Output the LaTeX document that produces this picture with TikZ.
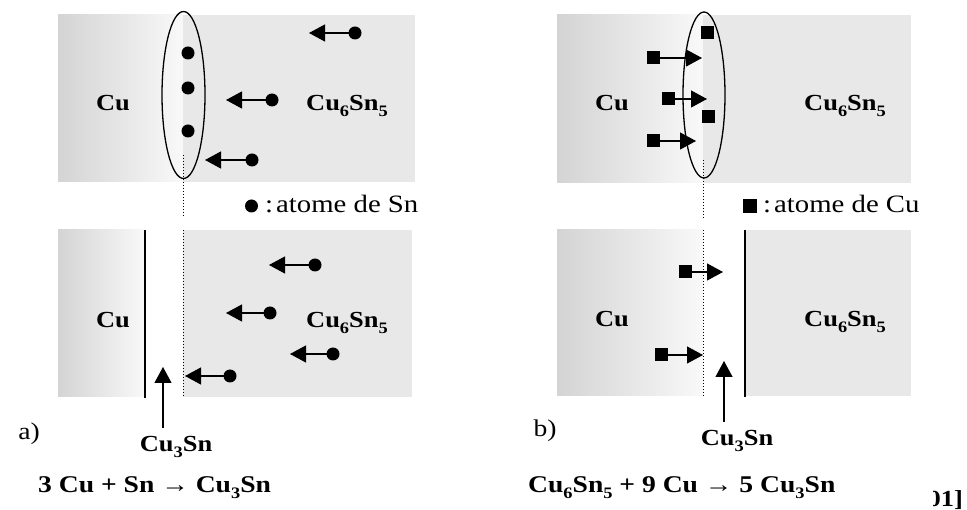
\documentclass[tikz,border=0pt]{standalone}
\usepackage{fontspec}
\setmainfont[FakeStretch=1.15]{Liberation Serif}
\usetikzlibrary{arrows.meta}
\newcommand\mysub[1]{\raisebox{-0.22em}{\fontsize{16}{16}\selectfont #1}}
\definecolor{cusix}{gray}{0.91}
\definecolor{cudark}{gray}{0.83}
\definecolor{culight}{gray}{0.975}
\tikzset{
  lab/.style={font=\fontsize{23}{23}\selectfont\bfseries, inner sep=0pt, anchor=base},
  txt/.style={font=\fontsize{24}{24}\selectfont, inner sep=0pt, anchor=base},
  legtxt/.style={font=\fontsize{25}{25}\selectfont, inner sep=0pt, anchor=base west},
  eqn/.style={font=\fontsize{24}{24}\selectfont\bfseries, inner sep=0pt, anchor=base west},
  atom/.style={circle, fill=black, inner sep=0pt, minimum size=13pt},
  sqatom/.style={rectangle, fill=black, inner sep=0pt, minimum size=13pt},
  arr/.style={line width=1.2pt, -{Triangle[length=16pt,width=17pt]}, shorten <=-1pt},
  cuzone/.style={left color=cudark, right color=culight, draw=none},
  sixzone/.style={fill=cusix, draw=none},
  iface/.style={dotted, line width=1pt},
  wall/.style={line width=1.3pt},
  ell/.style={draw, line width=1.3pt},
}
\begin{document}
\begin{tikzpicture}[x=1pt, y=-1pt]
\useasboundingbox (0,0) rectangle (967,510);

% ---------- panel a, top ----------
\shade[cuzone] (58,15) rectangle (183,182);
\fill[sixzone] (183,15) rectangle (415,182);
\draw[ell] (183.5,95) ellipse [x radius=21.5, y radius=83.5];
\draw[iface] (183,155) -- (183,217);
\node[lab] (cuA) at (113,111) {Cu};
\node[lab] (sixA) at (347,111) {Cu\mysub{6}Sn\mysub{5}};
\node[atom] (ea1) at (188,53) {};
\node[atom] (ea2) at (188,88) {};
\node[atom] (ea3) at (188,131) {};
\node[atom] (da1) at (355,33) {};
\coordinate (ta1) at (309,33);
\node[atom] (da2) at (272,100) {};
\coordinate (ta2) at (226,100);
\node[atom] (da3) at (252,160) {};
\coordinate (ta3) at (205,160);
\draw[arr] (da1) -- (ta1);
\draw[arr] (da2) -- (ta2);
\draw[arr] (da3) -- (ta3);
\node[atom] (legA) at (251.5,206) {};
\node[legtxt] (legAt) at (265,213) {:\kern3pt atome de Sn};

% ---------- panel a, bottom ----------
\shade[cuzone] (58,230) rectangle (145,397);
\fill[sixzone] (183,230) rectangle (412,397);
\draw[wall] (145,230) -- (145,398);
\draw[iface] (183,230) -- (183,397);
\node[lab] (cuB) at (113,328) {Cu};
\node[lab] (sixB) at (347,328) {Cu\mysub{6}Sn\mysub{5}};
\node[atom] (db1) at (315,265) {};
\coordinate (tb1) at (269,265);
\node[atom] (db2) at (270,313) {};
\coordinate (tb2) at (226,313);
\node[atom] (db3) at (333,354) {};
\coordinate (tb3) at (290,354);
\node[atom] (db4) at (230,376) {};
\coordinate (tb4) at (185,376);
\draw[arr] (db1) -- (tb1);
\draw[arr] (db2) -- (tb2);
\draw[arr] (db3) -- (tb3);
\draw[arr] (db4) -- (tb4);
\coordinate (pa) at (163,428);
\coordinate (pat) at (163,367);
\draw[arr, shorten <=0pt] (pa) -- (pat);
\node[lab] (c3a) at (176,452) {Cu\mysub{3}Sn};
\node[txt] (la) at (29,440) {a)};
\node[eqn] (eqa) at (38,493) {3 Cu + Sn → Cu\mysub{3}Sn};

% ---------- panel b, top ----------
\shade[cuzone] (557,15) rectangle (703,183);
\fill[sixzone] (703,15) rectangle (911,183);
\draw[ell] (704,95) ellipse [x radius=21, y radius=83];
\draw[iface] (703,160) -- (703,218);
\node[lab] (cuC) at (612,111) {Cu};
\node[lab] (sixC) at (845,111) {Cu\mysub{6}Sn\mysub{5}};
\node[sqatom] (ec1) at (707,33) {};
\node[sqatom] (ec2) at (708,117) {};
\node[sqatom] (dc1) at (653,58) {};
\coordinate (tc1) at (702,58);
\node[sqatom] (dc2) at (668,99) {};
\coordinate (tc2) at (707,99);
\node[sqatom] (dc3) at (653,141) {};
\coordinate (tc3) at (696,141);
\draw[arr] (dc1) -- (tc1);
\draw[arr] (dc2) -- (tc2);
\draw[arr] (dc3) -- (tc3);
\node[sqatom, minimum size=14pt] (legC) at (749.5,206) {};
\node[legtxt] (legCt) at (763,213) {:\kern3pt atome de Cu};

% ---------- panel b, bottom ----------
\shade[cuzone] (557,230) rectangle (703,396);
\fill[sixzone] (745,230) rectangle (911,396);
\draw[wall] (745,230) -- (745,397);
\draw[iface] (703,230) -- (703,397);
\node[lab] (cuD) at (612,327) {Cu};
\node[lab] (sixD) at (845,327) {Cu\mysub{6}Sn\mysub{5}};
\node[sqatom] (dd1) at (685,272) {};
\coordinate (td1) at (723,272);
\node[sqatom] (dd2) at (661,355) {};
\coordinate (td2) at (703,355);
\draw[arr] (dd1) -- (td1);
\draw[arr] (dd2) -- (td2);
\coordinate (pb) at (724,422);
\coordinate (pbt) at (724,361);
\draw[arr, shorten <=0pt] (pb) -- (pbt);
\node[lab] (c3b) at (737,446) {Cu\mysub{3}Sn};
\node[txt] (lb) at (545,437) {b)};
\node[eqn] (eqb) at (528,493) {Cu\mysub{6}Sn\mysub{5} + 9 Cu → 5 Cu\mysub{3}Sn};

% ---------- cut reference ----------
\begin{scope}
\clip (933,480) rectangle (967,510);
\node[lab, anchor=base east] (refc) at (963,507) {01]};
\end{scope}
\end{tikzpicture}
\end{document}
